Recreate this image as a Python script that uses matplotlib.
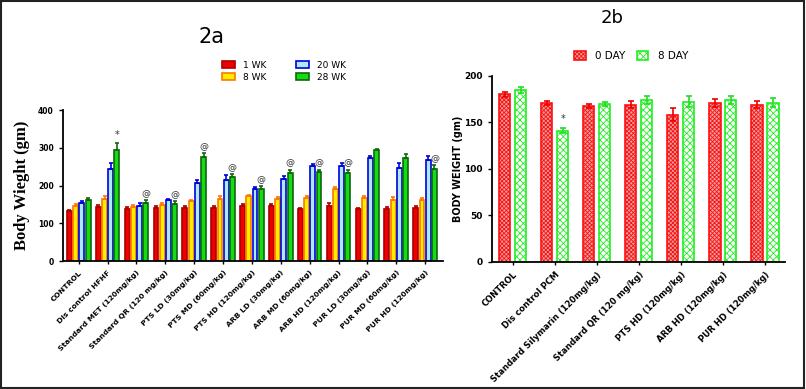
import numpy as np
import matplotlib
matplotlib.use("Agg")
import matplotlib.pyplot as plt
from matplotlib.patches import Rectangle

plt.rcParams['hatch.linewidth'] = 0.6

# ---- data for panel 2a ----
groups_a = ["CONTROL", "Dis control HFHF", "Standard MET (120mg/kg)", "Standard QR (120 mg/kg)",
            "PTS LD (30mg/kg)", "PTS MD (60mg/kg)", "PTS HD (120mg/kg)", "ARB LD (30mg/kg)",
            "ARB MD (60mg/kg)", "ARB HD (120mg/kg)", "PUR LD (30mg/kg)", "PUR MD (60mg/kg)",
            "PUR HD (120mg/kg)"]
wk1 = [132, 142, 138, 141, 141, 140, 146, 147, 138, 147, 137, 138, 140]
wk8 = [146, 164, 142, 148, 159, 165, 172, 165, 166, 190, 168, 163, 163]
wk20 = [155, 243, 147, 161, 206, 215, 190, 218, 253, 253, 272, 246, 267]
wk28 = [162, 294, 153, 151, 275, 222, 190, 234, 236, 234, 293, 272, 245]
wk1_err = [3, 7, 4, 5, 5, 6, 5, 5, 3, 8, 3, 4, 7]
wk8_err = [4, 8, 6, 7, 4, 7, 4, 5, 5, 7, 5, 6, 5]
wk20_err = [5, 17, 6, 3, 8, 12, 7, 6, 5, 6, 6, 13, 10]
wk28_err = [5, 20, 8, 7, 10, 8, 8, 8, 6, 8, 4, 11, 9]
marks_a = ["", "*", "@", "@", "@", "@", "@", "@", "@", "@", "", "", "@"]

# ---- data for panel 2b ----
groups_b = ["CONTROL", "Dis control PCM", "Standard Silymarin (120mg/kg)", "Standard QR (120 mg/kg)",
            "PTS HD (120mg/kg)", "ARB HD (120mg/kg)", "PUR HD (120mg/kg)"]
day0 = [180, 170.5, 167.5, 169, 158, 171, 169]
day8 = [184.5, 141, 170, 174, 172, 174, 171]
day0_err = [3, 2, 2, 4, 7, 4, 4]
day8_err = [3, 3, 2, 4, 6, 4, 5]
marks_b = ["", "*", "", "", "", "", ""]

fig = plt.figure(figsize=(8.06, 3.89), dpi=100)
fig.patches.append(Rectangle((0.001, 0.002), 0.997, 0.996, transform=fig.transFigure,
                             fill=False, edgecolor="#222222", linewidth=1.5))

# ---------- panel 2a ----------
ax1 = fig.add_axes([0.078, 0.329, 0.472, 0.388])
x = np.arange(len(groups_a))
series = [("1 WK", wk1, wk1_err, "#ee0000", "#aa0000"),
          ("8 WK", wk8, wk8_err, "#ffee00", "#ff7700"),
          ("20 WK", wk20, wk20_err, "#aee8f0", "#0000dd"),
          ("28 WK", wk28, wk28_err, "#11dd11", "#116611")]
w = 0.17
for i, (lab, vals, errs, fc, ec) in enumerate(series):
    xi = x + (i - 1.5) * 0.215
    ax1.bar(xi, vals, w, color=fc, edgecolor=ec, linewidth=1.2, label=lab)
    ax1.errorbar(xi, vals, yerr=[np.zeros(len(errs)), errs], fmt="none", ecolor=ec,
                 elinewidth=1.2, capsize=1.5, capthick=1.2)
for xi, v, e, m in zip(x + 1.5 * 0.215, wk28, wk28_err, marks_a):
    if m:
        ax1.text(xi, v + e + 6, m, ha="center", va="bottom", fontsize=6.5 if m == "@" else 7,
                 color="#333333")
ax1.set_xlim(-0.55, 12.63)
ax1.set_ylim(0, 400)
ax1.set_yticks([0, 100, 200, 300, 400])
ax1.set_xticks(x)
ax1.set_xticklabels(groups_a, rotation=45, ha="right", rotation_mode="anchor",
                    fontsize=5.4, fontweight="bold")
ax1.tick_params(axis="y", labelsize=5.5, length=3, width=1)
ax1.tick_params(axis="x", length=2.5, width=1)
for t in ax1.get_yticklabels():
    t.set_fontweight("bold")
for s in ["top", "right"]:
    ax1.spines[s].set_visible(False)
for s in ["left", "bottom"]:
    ax1.spines[s].set_linewidth(1.3)
ax1.set_ylabel("Body Wieght (gm)", family="Liberation Serif", fontweight="bold", fontsize=12,
               labelpad=6)
ax1.legend(ncol=2, loc="center", bbox_to_anchor=(0.352, 0.817), bbox_transform=fig.transFigure,
           fontsize=6.5, frameon=False, handlelength=1.5, handleheight=0.9,
           columnspacing=3.3, labelspacing=0.35, handletextpad=0.8)
fig.text(0.262, 0.905, "2a", fontsize=15, ha="center", va="center")

# ---------- panel 2b ----------
ax2 = fig.add_axes([0.610, 0.327, 0.364, 0.478])
xb = np.arange(len(groups_b))
wb = 0.27
ax2.bar(xb - 0.19, day0, wb, color="#e8a0a0", edgecolor="#ff1010", hatch="xxxxxxxx",
        linewidth=1.2, label="0 DAY")
ax2.bar(xb + 0.19, day8, wb, color="white", edgecolor="#22ee22", hatch="xxxxx",
        linewidth=1.2, label="8 DAY")
ax2.errorbar(xb - 0.19, day0, yerr=day0_err, fmt="none", ecolor="#ee0000",
             elinewidth=1.2, capsize=2.5, capthick=1.2)
ax2.errorbar(xb + 0.19, day8, yerr=day8_err, fmt="none", ecolor="#22dd22",
             elinewidth=1.2, capsize=2.5, capthick=1.2)
for xi, v, e, m in zip(xb + 0.19, day8, day8_err, marks_b):
    if m:
        ax2.text(xi, v + e + 4, m, ha="center", va="bottom", fontsize=7, color="#333333")
ax2.set_xlim(-0.5, 6.48)
ax2.set_ylim(0, 200)
ax2.set_yticks([0, 50, 100, 150, 200])
ax2.set_xticks(xb)
ax2.set_xticklabels(groups_b, rotation=45, ha="right", rotation_mode="anchor",
                    fontsize=6.1, fontweight="bold")
ax2.tick_params(axis="y", labelsize=6.5, length=3, width=1)
ax2.tick_params(axis="x", length=2.5, width=1)
for t in ax2.get_yticklabels():
    t.set_fontweight("bold")
for s in ["top", "right"]:
    ax2.spines[s].set_visible(False)
for s in ["left", "bottom"]:
    ax2.spines[s].set_linewidth(1.3)
ax2.set_ylabel("BODY WEIGHT (gm)", fontweight="bold", fontsize=7, labelpad=1)
ax2.legend(ncol=2, loc="center", bbox_to_anchor=(0.783, 0.856), bbox_transform=fig.transFigure,
           fontsize=7.5, frameon=False, handlelength=1.1, handleheight=0.9,
           columnspacing=1.1, handletextpad=0.9)
fig.text(0.76, 0.955, "2b", fontsize=13, ha="center", va="center")

fig.savefig("out.png", dpi=100)
